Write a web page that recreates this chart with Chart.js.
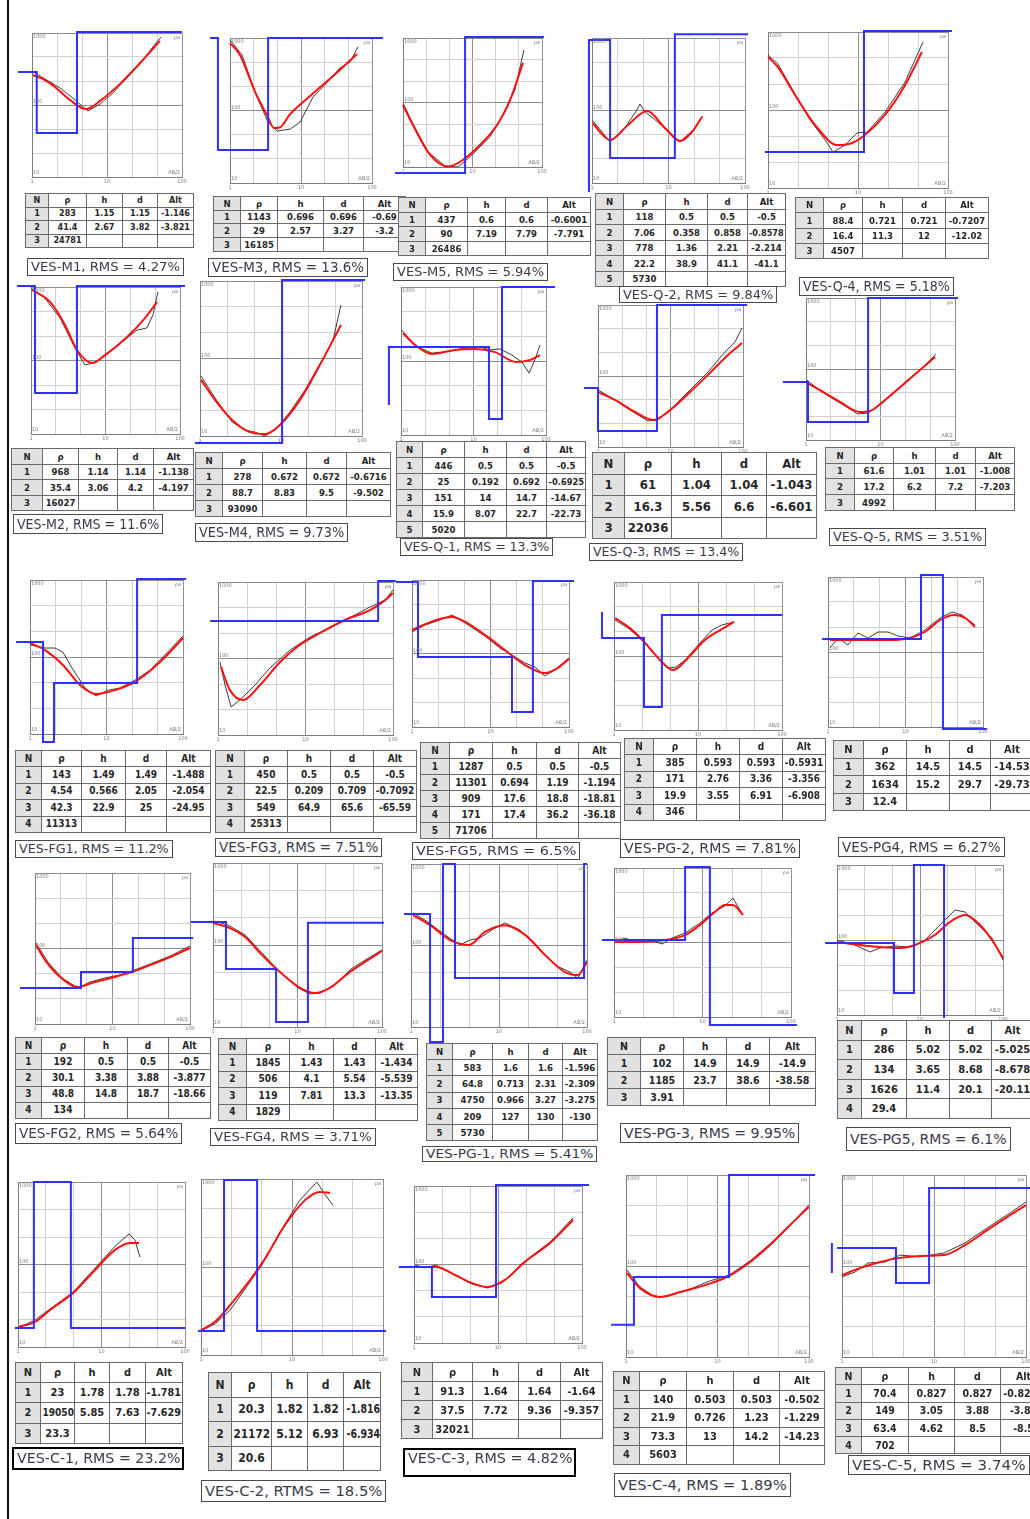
<!DOCTYPE html>
<html><head><meta charset="utf-8">
<script src="https://cdn.jsdelivr.net/npm/chart.js@4.4.1/dist/chart.umd.min.js"></script>
<style>
html,body{margin:0;padding:0;background:#fff;}
#page{position:relative;width:1030px;height:1519px;overflow:hidden;background:#fff;}
#page canvas{position:absolute;}
table.ves{position:absolute;border-collapse:collapse;table-layout:fixed;background:#fff;font-family:"Liberation Sans Narrow","Arial Narrow","DejaVu Sans Condensed","Liberation Sans",sans-serif;color:#262626;font-weight:bold;}
table.ves td{border:1px solid #6a6a6a;text-align:center;padding:0;overflow:hidden;white-space:nowrap;line-height:1;}
table.ves tr:first-child td{background:#d3d3d3;}
table.ves td.n{background:#e2e2e2;}
table.ves td span{display:inline-block;transform-origin:50% 50%;}
.lbl{position:absolute;border:1px solid #4a4a4a;background:#fff;box-sizing:border-box;overflow:hidden;white-space:nowrap;color:#3a3a4a;font-family:"Liberation Sans Narrow","Arial Narrow","DejaVu Sans Condensed","Liberation Sans",sans-serif;}
.lbl.thick{border:2px solid #000;}
.lbl span{position:absolute;left:3px;display:inline-block;transform-origin:0 50%;}
#edge{position:absolute;left:7px;top:0;width:2px;height:1519px;background:#111;}
</style></head>
<body><div id="page"><div id="edge"></div></div>
<script>
// ---- axis tick labels (log axes, AB/2 in m and apparent resistivity in ohm-m) ----
const xTickLabels = ['1','10','100'];
const yTickLabels = ['10','100','1000'];
const tableHeader = ['N','\u03c1','h','d','Alt'];

// ---- curves: x = AB/2, y = apparent resistivity, both in 1/3-decade grid units ----
const m1Fit = [[0.04,4.25],[0.52,4.04],[0.92,3.75],[1.52,3.21],[2.16,2.83],[2.72,3.17],[3.52,3.88],[4.32,4.75],[5.12,5.67]];
const m1Obs = [[0.12,4.33],[0.72,3.96],[1.12,3.71],[1.72,3.21],[2.24,2.75],[2.72,3.04],[3.2,3.46],[3.72,4.04],[4.32,4.71],[4.92,5.54],[5.16,5.83]];
const m1Model = [[-0.56,4.38],[0.19,1.83],[1.8,6.04],[6.0,6.04]];
const m1Layers = [[283,1.15,1.15,-1.146],[41.4,2.67,3.82,-3.821],[24781]];

const m3Fit = [[0,5.79],[0.42,5.3],[1.06,3.77],[1.56,2.81],[1.86,2.28],[2.1,2.3],[2.54,2.85],[3.38,3.6],[4.44,4.5],[5.37,5.34]];
const m3Obs = [[0,5.92],[0.51,5.3],[1.1,3.64],[1.61,2.52],[1.99,2.15],[2.54,2.23],[2.96,2.52],[3.51,3.56],[4.01,4.06],[4.65,4.76],[5.07,5.01],[5.41,5.63]];
const m3Model = [[-0.84,6.0],[-0.51,1.37],[1.61,6.0],[6.46,6.0]];
const m3Layers = [[1143,0.696,0.696,'-0.69'],[29,2.57,3.27,'-3.2'],[16185]];

const m5Fit = [[0,2.88],[0.43,1.95],[1.17,0.56],[1.94,0.02],[2.59,0.33],[3.32,1.02],[4.06,1.95],[4.62,3.12],[5.18,4.84]];
const m5Obs = [[0,2.98],[0.39,2.09],[1.08,0.7],[1.81,0.05],[2.37,0],[2.89,0.47],[3.75,1.4],[4.4,2.56],[4.83,3.58],[5.22,5.44]];
const m5Model = [[-0.35,-0.28],[2.68,6.05],[6.09,6.05]];
const m5Layers = [[437,0.6,0.6,-0.6001],[90,7.19,7.79,-7.791],[26486]];

const q2Fit = [[0.04,2.48],[0.31,2.11],[0.71,1.78],[1.41,2.4],[2.16,2.98],[2.86,2.28],[3.45,1.74],[3.92,2.11],[4.31,2.73]];
const q2Obs = [[0.04,2.57],[0.43,2.07],[0.71,1.7],[1.29,2.28],[1.76,3.02],[1.88,3.27],[2.08,2.94],[2.39,2.69],[2.94,2.19],[3.45,1.7],[3.96,2.19],[4.35,2.77]];
const q2Model = [[-0.12,-0.37],[-0.12,5.92],[0.71,1.03],[3.25,6.16],[6.12,6.16]];
const q2Layers = [[118,0.5,0.5,-0.5],[7.06,0.358,0.858,-0.8578],[778,1.36,2.21,-2.214],[22.2,38.9,41.1,-41.1],[5730]];

const q4Fit = [[0,5.04],[0.33,4.65],[0.9,3.58],[1.57,2.42],[2.33,1.65],[2.8,1.73],[3.23,2.04],[3.9,2.81],[4.57,3.96],[5.13,5.23]];
const q4Obs = [[0,5.12],[0.33,4.77],[0.73,3.96],[1.4,2.62],[1.9,1.85],[2.17,1.38],[2.57,1.65],[2.97,2.12],[3.3,2.15],[3.9,2.92],[4.57,4.08],[5.17,5.62]];
const q4Model = [[-0.1,1.38],[3.2,6.04],[6.13,6.04]];
const q4Layers = [[88.4,0.721,0.721,-0.7207],[16.4,11.3,12,-12.02],[4507]];

const m2Fit = [[0.04,5.88],[0.77,5.39],[1.37,4.45],[1.85,3.43],[2.46,2.9],[2.98,3.22],[3.87,3.96],[4.59,4.73],[5.08,5.39]];
const m2Obs = [[0,5.96],[0.56,5.55],[1.17,4.73],[1.77,3.51],[2.17,2.82],[2.58,2.9],[3.18,3.35],[3.87,3.92],[4.27,4.24],[4.67,4.33],[4.91,4.86],[5.11,5.8]];
const m2Model = [[-0.56,6.04],[0.16,1.67],[1.85,6.04],[6.2,6.04]];
const m2Layers = [[968,1.14,1.14,-1.138],[35.4,3.06,4.2,-4.197],[16027]];

const m4Fit = [[0.04,2.17],[0.56,1.39],[1.19,0.62],[1.85,0.15],[2.41,0.08],[2.96,0.43],[3.7,1.39],[4.44,2.75],[5.22,4.3]];
const m4Obs = [[0.04,2.32],[0.56,1.47],[1.19,0.54],[1.67,0.23],[2.04,0.15],[2.41,0],[2.78,0.23],[3.33,0.93],[3.89,1.78],[4.52,2.94],[4.93,3.72],[5.22,5.07]];
const m4Model = [[-0.19,-0.27],[3.04,6.04],[6.11,6.04]];
const m4Layers = [[278,0.672,0.672,-0.6716],[88.7,8.83,9.5,-9.502],[93090]];

const q1Fit = [[0.08,4.13],[0.58,3.65],[1.28,3.28],[2.23,3.45],[3.02,3.49],[3.89,3.36],[4.76,2.96],[5.34,3.04],[5.75,3.24]];
const q1Obs = [[0.04,4.26],[0.58,3.61],[1.28,3.32],[2.03,3.4],[2.65,3.53],[3.27,3.57],[3.68,3.45],[4.1,3.49],[4.59,3.24],[5.0,2.96],[5.3,2.51],[5.54,3.04],[5.75,3.65]];
const q1Model = [[-0.5,1.22],[-0.5,3.57],[3.64,0.65],[4.18,6.0],[6.37,6.0]];
const q1Layers = [[446,0.5,0.5,-0.5],[25,0.192,0.692,-0.6925],[151,14,14.7,-14.67],[15.9,8.07,22.7,-22.73],[5020]];

const q3Fit = [[0,2.32],[0.7,1.99],[1.53,1.48],[2.28,1.14],[2.98,1.56],[3.81,2.32],[4.63,3.13],[5.38,3.89],[5.96,4.39]];
const q3Obs = [[0,2.41],[0.58,2.07],[1.32,1.56],[2.07,1.1],[2.48,1.14],[3.06,1.65],[3.81,2.41],[4.55,3.17],[5.25,4.01],[5.67,4.44],[5.96,5.03]];
const q3Model = [[-0.58,2.49],[0,0.68],[2.44,6.0],[6.17,6.0]];
const q3Layers = [[61,1.04,1.04,-1.043],[16.3,5.56,6.6,-6.601],[22036]];

const q5Fit = [[0.04,2.41],[0.56,2.11],[1.37,1.61],[2.17,1.18],[2.58,1.23],[3.18,1.69],[3.99,2.41],[4.59,2.96],[5.2,3.51]];
const q5Obs = [[0.04,2.53],[0.64,2.03],[1.37,1.56],[2.09,1.1],[2.5,1.14],[3.18,1.65],[3.99,2.45],[4.67,3.04],[5.24,3.63]];
const q5Model = [[-0.93,2.45],[0.08,0.76],[2.5,6.0],[6.12,6.0]];
const q5Layers = [[61.6,1.01,1.01,-1.008],[17.2,6.2,7.2,-7.203],[4992]];

const fg1Fit = [[0,3.55],[0.59,3.27],[1.29,2.69],[1.96,1.91],[2.59,1.56],[3.33,1.71],[4.12,2.03],[5.1,2.8],[6,3.74]];
const fg1Obs = [[0,3.47],[0.59,3.35],[0.98,3.35],[1.29,3.19],[1.65,2.57],[2.16,1.79],[2.59,1.48],[3.06,1.71],[3.53,1.79],[4.12,2.1],[4.71,2.49],[5.29,3.08],[6,3.82]];
const fg1Model = [[-0.55,3.58],[0.51,-0.31],[0.94,1.99],[4.2,6.04],[6.12,6.04]];
const fg1Layers = [[143,1.49,1.49,-1.488],[4.54,0.566,2.05,-2.054],[42.3,22.9,25,-24.95],[11313]];

const fg3Fit = [[0.1,2.67],[0.41,1.76],[0.86,1.37],[1.44,1.96],[2.13,2.86],[2.71,3.45],[3.5,4.0],[4.35,4.51],[5.21,4.9],[5.73,5.29],[6,5.57]];
const fg3Obs = [[0.07,2.86],[0.24,1.96],[0.45,1.1],[0.75,1.37],[1.27,1.96],[1.78,2.63],[2.47,3.33],[3.15,3.84],[4.01,4.31],[4.7,4.71],[5.21,5.02],[5.73,5.29],[6,5.69]];
const fg3Model = [[-0.27,4.47],[5.49,6.04],[6.1,6.04]];
const fg3Layers = [[450,0.5,0.5,-0.5],[22.5,0.209,0.709,-0.7092],[549,64.9,65.6,-65.59],[25313]];

const fg5Fit = [[0,3.96],[0.5,4.2],[1.07,4.41],[1.53,4.49],[2.03,4.29],[2.79,3.76],[3.55,3.14],[4.32,2.53],[5.08,2.2],[5.58,2.41],[6,2.78]];
const fg5Obs = [[0,3.88],[0.5,4.16],[1.07,4.37],[1.53,4.57],[1.91,4.33],[2.79,3.71],[3.36,3.22],[3.94,2.86],[4.32,2.61],[4.7,2.45],[5.08,2.08],[5.54,2.41],[6,2.82]];
const fg5Model = [[-0.61,5.92],[0.23,2.86],[3.82,0.61],[4.62,5.96],[6.19,5.96]];
const fg5Layers = [[1287,0.5,0.5,-0.5],[11301,0.694,1.19,-1.194],[909,17.6,18.8,-18.81],[171,17.4,36.2,-36.18],[71706]];

const pg2Fit = [[0.04,4.54],[0.57,4.13],[1.11,3.53],[1.64,2.84],[2.11,2.43],[2.64,2.92],[3.25,3.65],[3.79,4.05],[4.29,4.38]];
const pg2Obs = [[0.04,4.46],[0.5,4.13],[0.93,3.73],[1.46,3.04],[1.93,2.51],[2.21,2.55],[2.54,2.84],[3.07,3.53],[3.5,4.05],[3.86,4.26],[4.29,4.38]];
const pg2Model = [[-0.43,4.78],[-0.43,3.73],[1.07,0.93],[1.71,4.66],[6.0,4.66]];
const pg2Layers = [[385,0.593,0.593,-0.5931],[171,2.76,3.36,-3.356],[19.9,3.55,6.91,-6.908],[346]];

const pg4Fit = [[0.08,3.48],[0.85,3.48],[1.63,3.48],[2.4,3.48],[3.17,3.56],[3.75,3.8],[4.34,4.28],[4.88,4.48],[5.31,4.36],[5.69,4.0]];
const pg4Obs = [[0.08,3.16],[0.39,3.56],[0.77,3.28],[1.16,3.76],[1.55,3.56],[1.94,3.8],[2.32,3.8],[2.71,3.64],[3.17,3.56],[3.75,3.88],[4.34,4.36],[4.8,4.6],[5.19,4.48],[5.69,4.08]];
const pg4Model = [[-0.23,3.52],[3.6,6.08],[4.45,-0.08],[6.16,-0.08]];
const pg4Layers = [[362,14.5,14.5,-14.53],[1634,15.2,29.7,-29.73],[12.4]];

const fg2Fit = [[0.04,3.14],[0.39,2.54],[0.97,1.87],[1.66,1.47],[2.32,1.67],[3.1,1.87],[3.76,2.07],[4.45,2.34],[5.23,2.66],[6,3.02]];
const fg2Obs = [[0.04,3.22],[0.5,2.46],[1.05,1.83],[1.66,1.43],[2.13,1.67],[2.71,1.83],[3.29,1.95],[3.87,2.15],[4.45,2.38],[5.23,2.7],[6,3.1]];
const fg2Model = [[-0.58,1.43],[1.78,2.07],[3.79,3.42],[6.12,3.42]];
const fg2Layers = [[192,0.5,0.5,-0.5],[30.1,3.38,3.88,-3.877],[48.8,14.8,18.7,-18.66],[134]];

const fg4Fit = [[0,3.81],[0.6,3.62],[1.14,3.29],[1.74,2.63],[2.38,2.01],[3.09,1.43],[3.62,1.24],[4.15,1.43],[4.86,2.01],[6,2.78]];
const fg4Obs = [[0,3.88],[0.53,3.73],[1.14,3.37],[1.74,2.71],[2.38,2.01],[3.02,1.43],[3.44,1.21],[3.8,1.24],[4.33,1.54],[4.86,2.09],[5.4,2.45],[6,2.82]];
const fg4Model = [[-0.78,3.84],[0.46,2.12],[2.24,0.18],[3.37,3.81],[6.07,3.81]];
const fg4Layers = [[1845,1.43,1.43,-1.434],[506,4.1,5.54,-5.539],[119,7.81,13.3,-13.35],[1829]];

const pg1Fit = [[0.07,4.12],[0.65,3.75],[1.33,3.2],[1.98,3.02],[2.52,3.5],[3.2,3.75],[3.89,3.39],[4.57,2.65],[5.25,2.02],[5.69,1.91],[6,2.39]];
const pg1Obs = [[0.07,4.2],[0.58,3.86],[1.16,3.39],[1.67,3.02],[2.01,3.2],[2.35,3.28],[2.86,3.64],[3.2,3.83],[3.72,3.57],[4.4,2.83],[4.91,2.28],[5.42,2.02],[5.69,1.8],[6,2.47]];
const pg1Model = [[-0.24,4.16],[0.65,-0.55],[1.09,6.0],[1.5,1.8],[5.9,6.0],[6.0,6.0]];
const pg1Layers = [[583,1.6,1.6,-1.596],[64.8,0.713,2.31,-2.309],[4750,0.966,3.27,-3.275],[209,127,130,-130],[5730]];

const pg3Fit = [[0.03,3.02],[0.88,3.02],[1.73,3.1],[2.41,3.3],[2.92,3.71],[3.42,4.23],[3.76,4.51],[4.03,4.51],[4.37,4.11]];
const pg3Obs = [[0.03,2.98],[0.37,3.18],[0.71,3.02],[1.22,3.1],[1.63,2.94],[1.97,3.18],[2.41,3.38],[2.92,3.79],[3.32,4.19],[3.76,4.47],[4.03,4.79],[4.37,4.11]];
const pg3Model = [[-0.41,3.1],[2.41,6.04],[3.25,-0.32],[6.2,-0.32]];
const pg3Layers = [[102,14.9,14.9,-14.9],[1185,23.7,38.6,-38.58],[3.91]];

const pg5Fit = [[0,2.92],[0.83,2.8],[1.55,2.72],[2.28,2.68],[2.82,2.8],[3.54,3.2],[4.08,3.72],[4.63,4.0],[5.17,3.6],[5.6,3.0],[6,2.28]];
const pg5Obs = [[0,3.0],[0.65,2.8],[1.19,2.52],[1.55,2.68],[2.1,2.76],[2.67,2.72],[3.18,3.0],[3.72,3.6],[4.27,4.2],[4.63,4.12],[5.1,3.6],[5.6,3.08],[6,2.2]];
const pg5Model = [[-0.43,2.88],[2.06,0.88],[2.78,6.0],[3.87,-0.12]];
const pg5Layers = [[286,5.02,5.02,-5.025],[134,3.65,8.68,-8.678],[1626,11.4,20.1,-20.11],[29.4]];

const c1Fit = [[0,0.73],[0.61,0.91],[1.15,1.35],[1.98,1.96],[2.77,2.8],[3.49,3.53],[4.03,3.78],[4.35,3.78]];
const c1Obs = [[0,0.69],[0.61,0.98],[1.15,1.38],[1.98,2.0],[2.77,2.87],[3.49,3.67],[3.99,4.11],[4.2,3.89],[4.38,3.27]];
const c1Model = [[-0.11,0.69],[0.57,6.0],[1.9,0.69],[6.0,0.69]];
const c1Layers = [[23,1.78,1.78,-1.781],[19050,5.85,7.63,-7.629],[23.3]];

const c2Fit = [[0,0.85],[0.46,1.13],[0.96,1.7],[1.62,2.56],[2.08,3.24],[2.77,4.43],[3.43,5.28],[3.92,5.56],[4.25,5.52]];
const c2Obs = [[0,0.82],[0.46,1.06],[0.96,1.53],[1.55,2.39],[2.01,3.07],[2.6,4.19],[3.26,5.28],[3.82,5.9],[4.09,5.46],[4.35,5.11]];
const c2Model = [[-0.1,0.82],[0.76,5.97],[1.85,0.82],[6.1,0.82]];
const c2Layers = [[20.3,1.82,1.82,-1.816],[21172,5.12,6.93,-6.934],[20.6]];

const c3Fit = [[0.07,2.9],[0.79,2.9],[1.46,2.6],[2.07,2.29],[2.64,2.14],[3.25,2.41],[3.96,3.1],[4.86,3.82],[5.68,4.7]];
const c3Obs = [[0.04,2.98],[0.39,2.87],[0.79,2.98],[1.46,2.6],[2.07,2.25],[2.64,2.1],[3.25,2.41],[3.96,3.13],[4.86,3.86],[5.68,4.78]];
const c3Model = [[-0.54,2.9],[0.64,1.76],[2.93,6.04],[6.25,6.04]];
const c3Layers = [[91.3,1.64,1.64,-1.64],[37.5,7.72,9.36,-9.357],[32021]];

const c4Fit = [[0.03,2.77],[0.46,2.27],[1.11,1.98],[1.77,2.14],[2.59,2.37],[3.38,2.67],[4.07,3.13],[4.72,3.69],[5.38,4.35],[6,4.95]];
const c4Obs = [[0.03,2.87],[0.46,2.31],[0.95,1.98],[1.38,2.01],[2.1,2.24],[2.75,2.51],[3.38,2.7],[4.07,3.17],[4.72,3.73],[5.38,4.35],[6,5.01]];
const c4Model = [[-0.49,1.06],[0.26,2.64],[3.38,6.0],[6.2,6.0]];
const c4Layers = [[140,0.503,0.503,'-0.502'],[21.9,0.726,1.23,-1.229],[73.3,13,14.2,-14.23],[5603]];

const c5Fit = [[0,2.7],[0.59,2.93],[1.24,3.13],[1.83,3.26],[2.54,3.33],[3.33,3.36],[4.01,3.69],[4.83,4.25],[5.48,4.68],[6,5.01]];
const c5Obs = [[0,2.64],[0.42,2.8],[0.85,3.1],[1.4,3.13],[1.89,3.36],[2.54,3.3],[3.33,3.43],[4.01,3.76],[4.83,4.32],[5.48,4.75],[6,5.11]];
const c5Model = [[-0.16,3.59],[1.76,2.44],[2.84,5.57],[6.23,5.57]];
const c5Edge = [[-0.33,3.76],[-0.33,2.77]];
const c5Layers = [[70.4,0.827,0.827,-0.8268],[149,3.05,3.88,-3.88],[63.4,4.62,8.5,-8.5],[702]];

const labelTexts = [
 'VES-M1, RMS = 4.27%','VES-M3, RMS = 13.6%','VES-M5, RMS = 5.94%','VES-Q-2, RMS = 9.84%','VES-Q-4, RMS = 5.18%',
 'VES-M2, RMS = 11.6%','VES-M4, RMS = 9.73%','VES-Q-1, RMS = 13.3%','VES-Q-3, RMS = 13.4%','VES-Q-5, RMS = 3.51%',
 'VES-FG1, RMS = 11.2%','VES-FG3, RMS = 7.51%','VES-FG5, RMS = 6.5%','VES-PG-2, RMS = 7.81%','VES-PG4, RMS = 6.27%',
 'VES-FG2, RMS = 5.64%','VES-FG4, RMS = 3.71%','VES-PG-1, RMS = 5.41%','VES-PG-3, RMS = 9.95%','VES-PG5, RMS = 6.1%',
 'VES-C-1, RMS = 23.2%','VES-C-2, RTMS = 18.5%','VES-C-3, RMS = 4.82%','VES-C-4, RMS = 1.89%','VES-C-5, RMS = 3.74%'
];

// ---- layout (page geometry only) ----
const layout = [
 {box:[32,33,182,177], fit:m1Fit, obs:m1Obs, model:[m1Model], layers:m1Layers, tab:[25,193,[23,38,36,35,36],13.5,9], lab:[27,258,157,18]},
 {box:[230,38,372,183], fit:m3Fit, obs:m3Obs, model:[m3Model], layers:m3Layers, tab:[213,196,[27,37,46,40,42],13.7,9.5], lab:[208,258,160,19]},
 {box:[403,38,542,167], fit:m5Fit, obs:m5Obs, model:[m5Model], layers:m5Layers, tab:[398,197,[27,42,38,42,43],14.5,9.5], lab:[393,263,155,18]},
 {box:[592,38,745,183], fit:q2Fit, obs:q2Obs, model:[q2Model], layers:q2Layers, tab:[595,193,[28,42,42,40,38],15.5,9.5], lab:[619,286,158,17]},
 {box:[768,32,948,188], fit:q4Fit, obs:q4Obs, model:[q4Model], layers:q4Layers, tab:[795,197,[28,39,40,43,43],15.3,9.5], lab:[799,277,155,19]},
 {box:[31,287,180,434], fit:m2Fit, obs:m2Obs, model:[m2Model], layers:m2Layers, tab:[11,448,[31,36,39,36,40],15.5,9.5], lab:[13,514,150,20]},
 {box:[200,281,362,436], fit:m4Fit, obs:m4Obs, model:[m4Model], layers:m4Layers, tab:[195,452,[27,40,44,40,44],16,9.5], lab:[195,523,153,19]},
 {box:[401,287,546,435], fit:q1Fit, obs:q1Obs, model:[q1Model], layers:q1Layers, tab:[396,441,[26,42,42,40,39],16,9.5], lab:[400,538,153,18]},
 {box:[598,305,743,447], fit:q3Fit, obs:q3Obs, model:[q3Model], layers:q3Layers, tab:[592,452,[32,47,50,45,50],21.5,13], lab:[589,543,154,18]},
 {box:[806,298,955,440], fit:q5Fit, obs:q5Obs, model:[q5Model], layers:q5Layers, tab:[825,447,[29,39,42,40,39],15.7,9.5], lab:[829,528,157,18]},
 {box:[30,580,183,734], fit:fg1Fit, obs:fg1Obs, model:[fg1Model], layers:fg1Layers, tab:[15,750,[26,40,44,41,44],16.4,10], lab:[15,840,158,18]},
 {box:[218,582,393,735], fit:fg3Fit, obs:fg3Obs, model:[fg3Model], layers:fg3Layers, tab:[215,750,[29,43,43,43,43],16.4,10], lab:[215,838,167,19]},
 {box:[412,580,569,727], fit:fg5Fit, obs:fg5Obs, model:[fg5Model], layers:fg5Layers, tab:[420,742,[29,43,44,42,42],16,10], lab:[412,842,168,18]},
 {box:[614,582,782,730], fit:pg2Fit, obs:pg2Obs, model:[pg2Model], layers:pg2Layers, tab:[624,738,[29,43,43,43,43],16.4,10], lab:[620,839,180,19]},
 {box:[828,577,983,727], fit:pg4Fit, obs:pg4Obs, model:[pg4Model], layers:pg4Layers, tab:[833,740,[30,43,43,41,43],17.5,11], lab:[838,837,167,20]},
 {box:[35,873,190,1024], fit:fg2Fit, obs:fg2Obs, model:[fg2Model], layers:fg2Layers, tab:[15,1037,[26,43,43,41,42],16.2,10], lab:[15,1123,167,21]},
 {box:[213,863,382,1027], fit:fg4Fit, obs:fg4Obs, model:[fg4Model], layers:fg4Layers, tab:[218,1038,[28,43,44,42,42],16.4,10], lab:[210,1128,166,18]},
 {box:[411,864,587,1027], fit:pg1Fit, obs:pg1Obs, model:[pg1Model], layers:pg1Layers, tab:[426,1043,[26,40,36,34,35],16.2,9.5], lab:[422,1146,175,16]},
 {box:[614,868,791,1017], fit:pg3Fit, obs:pg3Obs, model:[pg3Model], layers:pg3Layers, tab:[607,1037,[33,43,43,43,46],17,10.5], lab:[620,1123,179,20]},
 {box:[837,865,1003,1015], fit:pg5Fit, obs:pg5Obs, model:[pg5Model], layers:pg5Layers, tab:[837,1020,[24,45,43,42,42],19.6,11], lab:[846,1127,165,24]},
 {box:[18,1182,185,1347], fit:c1Fit, obs:c1Obs, model:[c1Model], layers:c1Layers, tab:[15,1362,[25,34,35,36,37],20.2,11], lab:[12,1447,172,23,true]},
 {box:[201,1179,383,1355], fit:c2Fit, obs:c2Obs, model:[c2Model], layers:c2Layers, tab:[208,1372,[23,40,36,36,37],24.5,12], lab:[201,1480,185,22]},
 {box:[414,1186,582,1343], fit:c3Fit, obs:c3Obs, model:[c3Model], layers:c3Layers, tab:[401,1362,[31,40,46,42,42],19,11], lab:[403,1448,173,29,true]},
 {box:[626,1175,809,1357], fit:c4Fit, obs:c4Obs, model:[c4Model], layers:c4Layers, tab:[613,1371,[26,47,47,46,45],18.5,11], lab:[614,1473,177,24]},
 {box:[842,1175,1026,1357], fit:c5Fit, obs:c5Obs, model:[c5Model,c5Edge], layers:c5Layers, tab:[835,1367,[26,47,46,46,46],17.3,10.5], lab:[848,1455,182,20]}
];

const page = document.getElementById('page');
const PAD = 30;

const axisText = {
  id:'axisText',
  afterDraw(chart){
    const {ctx, chartArea:a} = chart;
    const xs = chart.scales.x, ys = chart.scales.y;
    ctx.save();
    ctx.font = '5px "DejaVu Sans", sans-serif';
    ctx.fillStyle = '#7a7a7a';
    ctx.textAlign = 'center'; ctx.textBaseline = 'top';
    xTickLabels.forEach((t,i)=>ctx.fillText(t, xs.getPixelForValue(i*3), a.bottom+2));
    ctx.textAlign = 'left'; ctx.textBaseline = 'middle';
    yTickLabels.forEach((t,i)=>ctx.fillText(t, a.left+1, ys.getPixelForValue(i*3) + (i===0?-4:(i===2?4:-3))));
    ctx.textAlign = 'right'; ctx.textBaseline = 'top';
    ctx.fillText('\u03c1a', a.right-2, a.top+2);
    ctx.textBaseline = 'bottom';
    ctx.fillText('AB/2', a.right-2, a.bottom-2);
    ctx.restore();
  }
};

function axisOpts(pos){
  return {
    type:'linear', position:pos, bounds:'data',
    afterDataLimits: s => { s.min = 0; s.max = 6; },
    afterBuildTicks: s => { s.ticks = [0,1,2,3,4,5,6].map(v=>({value:v})); },
    ticks:{display:false},
    grid:{drawTicks:false, lineWidth:1, color: c => (c.tick && c.tick.value % 3 === 0) ? '#8e8e8e' : '#d0d0d0'},
    border:{display:true, color:'#7c7c7c', width:1}
  };
}

function makeChart(p){
  const [L,T,R,B] = p.box;
  const cv = document.createElement('canvas');
  cv.width = (R-L) + 2*PAD; cv.height = (B-T) + 2*PAD;
  cv.style.left = (L-PAD)+'px'; cv.style.top = (T-PAD)+'px';
  page.appendChild(cv);
  const datasets = [];
  p.model.forEach(m => datasets.push({data:m, showLine:true, stepped:'before', borderColor:'#2f2fff', borderWidth:2, pointRadius:0, clip:false, fill:false}));
  datasets.push({data:p.fit, showLine:true, borderColor:'#ff1010', borderWidth:2, cubicInterpolationMode:'monotone', pointRadius:0, fill:false});
  datasets.push({data:p.obs, showLine:true, borderColor:'#3c3c3c', borderWidth:1, tension:0, pointRadius:0, fill:false});
  new Chart(cv, {
    type:'scatter',
    data:{datasets},
    options:{
      responsive:false, animation:false, events:[],
      layout:{padding:PAD, autoPadding:false},
      plugins:{legend:{display:false}, tooltip:{enabled:false}},
      scales:{x:axisOpts('bottom'), y:axisOpts('left')}
    },
    plugins:[axisText]
  });
}

function makeTable(layers, g){
  const [left, top, cols, rowH, fs] = g;
  const t = document.createElement('table');
  t.className = 'ves';
  t.style.left = left+'px'; t.style.top = top+'px'; t.style.fontSize = fs+'px';
  t.style.width = cols.reduce((a,b)=>a+b,0)+'px';
  const cg = document.createElement('colgroup');
  cols.forEach(c=>{const col=document.createElement('col'); col.style.width=c+'px'; cg.appendChild(col);});
  t.appendChild(cg);
  const rows = [tableHeader].concat(layers.map((r,i)=>[i+1].concat(r)));
  rows.forEach((r)=>{
    const tr = document.createElement('tr');
    tr.style.height = rowH+'px';
    for(let ci=0; ci<5; ci++){
      const td = document.createElement('td');
      if(ci===0) td.className='n';
      const sp = document.createElement('span');
      sp.textContent = (r[ci]!==undefined) ? String(r[ci]) : '';
      td.appendChild(sp);
      tr.appendChild(td);
    }
    t.appendChild(tr);
  });
  page.appendChild(t);
  t.querySelectorAll('td').forEach(td=>{
    const sp = td.firstChild;
    const avail = td.clientWidth - 2;
    if(sp.offsetWidth > avail && avail > 0) sp.style.transform = 'scaleX('+(avail/sp.offsetWidth)+')';
  });
}

function makeLabel(text, g){
  const [left, top, w, h, thick] = g;
  const d = document.createElement('div');
  d.className = 'lbl' + (thick ? ' thick' : '');
  d.style.left = left+'px'; d.style.top = top+'px'; d.style.width = w+'px'; d.style.height = h+'px';
  const sp = document.createElement('span');
  sp.textContent = text;
  const fs = Math.min(14, Math.round(Math.min(h,21)*0.74));
  sp.style.fontSize = fs+'px';
  sp.style.lineHeight = (h - (thick?4:2) - (h>26?8:0))+'px';
  sp.style.top = '0px';
  d.appendChild(sp);
  page.appendChild(d);
  const target = w - 8;
  const s = target / sp.offsetWidth;
  sp.style.transform = 'scaleX('+s+')';
}

layout.forEach(p => makeChart(p));
layout.forEach(p => makeTable(p.layers, p.tab));
layout.forEach((p,i) => makeLabel(labelTexts[i], p.lab));
</script>
</body></html>
